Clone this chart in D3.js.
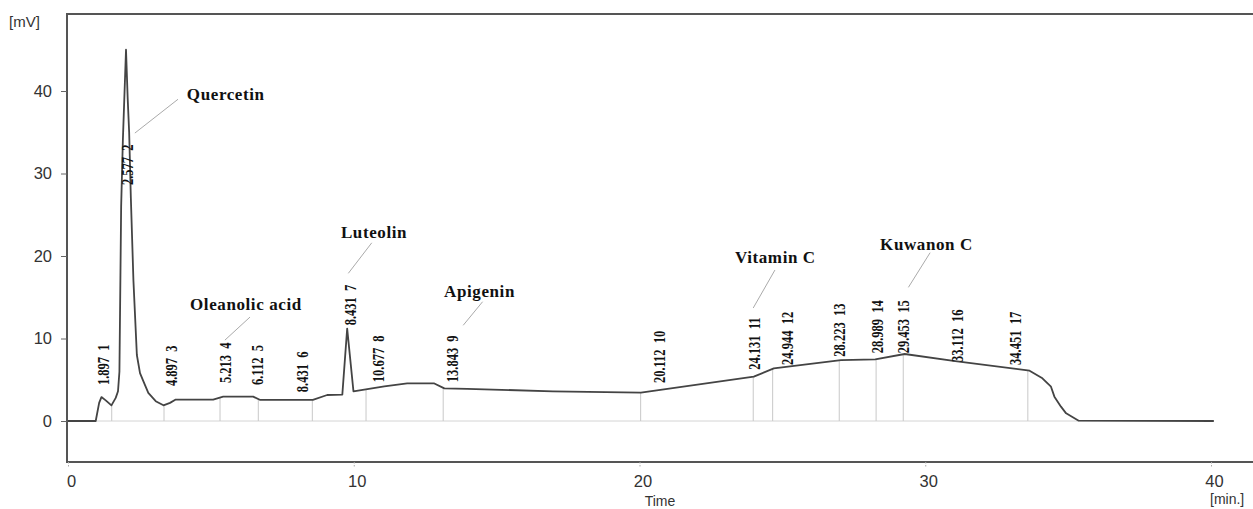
<!DOCTYPE html>
<html>
<head>
<meta charset="utf-8">
<script src="https://cdn.jsdelivr.net/npm/d3@7"></script>
<style>
  body { margin: 0; background: #fff; }
  svg { display: block; }
  .tick text { font-family: "Liberation Sans", Arial, sans-serif; fill: #333; }
  .peak { font-family: "Liberation Serif", "Times New Roman", serif; font-size: 12.5px; font-weight: bold; fill: #111; white-space: pre; }
  .name { font-family: "Liberation Serif", "Times New Roman", serif; font-size: 17px; font-weight: bold; fill: #111; letter-spacing: 0.6px; }
  .axlabel { font-family: "Liberation Sans", Arial, sans-serif; fill: #333; }
</style>
</head>
<body>
<svg id="chart"></svg>
<script>
  // chromatogram trace: time (min) and signal (mV)
  const traceTime = [0, 0.97, 1.09, 1.17, 1.32, 1.52, 1.67, 1.75, 1.8, 1.86, 1.92, 1.97, 2.03, 2.09, 2.14, 2.2, 2.29, 2.41, 2.52, 2.64, 2.81, 3.07, 3.34, 3.57, 3.77, 5.08, 5.43, 6.48, 6.73, 8.57, 9.07, 9.6, 9.77, 9.99, 11.07, 11.87, 12.82, 13.17, 13.97, 16.97, 20.05, 24.0, 24.7, 27.05, 28.25, 29.28, 31.05, 33.65, 34.1, 34.4, 34.52, 34.75, 34.93, 35.37, 40.1];
  const traceMV   = [0, 0, 2.2, 2.9, 2.5, 1.9, 2.8, 3.6, 6, 26, 34, 39, 45, 39, 35, 27, 17, 8, 5.8, 4.8, 3.4, 2.4, 1.9, 2.2, 2.6, 2.6, 2.95, 2.95, 2.55, 2.55, 3.15, 3.2, 11.2, 3.6, 4.2, 4.55, 4.55, 3.95, 3.9, 3.6, 3.43, 5.37, 6.38, 7.39, 7.47, 8.12, 7.27, 6.1, 5.17, 4.16, 2.95, 1.74, 0.93, 0.04, 0];

  // integration drop lines (min)
  const dropTimes = [1.53, 3.36, 5.32, 6.66, 8.55, 10.43, 13.13, 20.04, 23.98, 24.66, 26.99, 28.28, 29.23, 33.59];

  // peak labels
  const peakNums  = [1, 2, 3, 4, 5, 6, 7, 8, 9, 10, 11, 12, 13, 14, 15, 16, 17];
  const peakRT    = ["1.897", "2.577", "4.897", "5.213", "6.112", "8.431", "8.431", "10.677", "13.843", "20.112", "24.131", "24.944", "28.223", "28.989", "29.453", "33.112", "34.451"];
  const peakLabT  = [1.22, 2.07, 3.6, 5.49, 6.61, 8.19, 9.87, 10.85, 13.44, 20.68, 24.01, 25.16, 26.98, 28.31, 29.22, 31.11, 33.14];
  const peakLabV  = [4.36, 28.6, 4.24, 4.6, 4.36, 3.5, 11.6, 4.7, 4.7, 4.6, 6.2, 6.8, 7.8, 8.2, 8.2, 7.15, 6.8];

  // compound names with leader lines
  const compounds = ["Quercetin", "Oleanolic acid", "Luteolin", "Apigenin", "Vitamin C", "Kuwanon C"];
  const nameT  = [4.16, 4.27, 9.55, 13.16, 23.34, 28.42];
  const nameV  = [38.9, 13.45, 22.2, 15.0, 19.15, 20.7];
  const lineT1 = [3.85, 6.37, 10.63, 14.51, 24.74, 30.17];
  const lineV1 = [39.0, 12.6, 21.6, 14.46, 18.3, 20.4];
  const lineT2 = [2.34, 5.49, 9.81, 13.83, 23.98, 29.41];
  const lineV2 = [34.9, 9.8, 17.9, 11.6, 13.7, 16.2];

  const xTicks = [0, 10, 20, 30, 40];
  const yTicks = [0, 10, 20, 30, 40];

  const width = 1253, height = 509;
  const frameLeft = 67, frameTop = 14, frameBottom = 462;

  const svg = d3.select('#chart')
    .attr('width', width)
    .attr('height', height);

  const x = d3.scaleLinear().domain([0, 40]).range([68, 1211]);
  const y = d3.scaleLinear().domain([0, 40]).range([421, 91]);

  // frame
  svg.append('path')
    .attr('d', `M${width},${frameTop}H${frameLeft}V${frameBottom}H${width}`)
    .attr('fill', 'none')
    .attr('stroke', '#555')
    .attr('stroke-width', 2);

  // axes
  const yAxis = svg.append('g')
    .attr('transform', `translate(${frameLeft},0)`)
    .call(d3.axisLeft(y).tickValues(yTicks).tickSize(6).tickPadding(9));
  yAxis.select('.domain').remove();
  yAxis.selectAll('line').attr('stroke', '#666');
  yAxis.selectAll('text').style('font-size', '16.5px');

  const xAxis = svg.append('g')
    .attr('transform', `translate(0,${frameBottom})`)
    .call(d3.axisBottom(x).tickValues(xTicks).tickSize(6).tickPadding(7));
  xAxis.select('.domain').remove();
  xAxis.selectAll('line').attr('stroke', '#aaa').attr('stroke-dasharray', '1.5,1.5');
  xAxis.selectAll('text').style('font-size', '16.5px').attr('dx', 3);

  svg.append('text').attr('class', 'axlabel').attr('x', 9).attr('y', 27)
    .style('font-size', '15px')
    .text('[mV]');
  svg.append('text').attr('class', 'axlabel').attr('x', 660).attr('y', 506).attr('text-anchor', 'middle')
    .style('font-size', '14px')
    .text('Time');
  svg.append('text').attr('class', 'axlabel').attr('x', 1210).attr('y', 504)
    .style('font-size', '14px')
    .text('[min.]');

  // baseline and drop lines
  svg.append('line')
    .attr('x1', x(0)).attr('x2', x(40))
    .attr('y1', y(0)).attr('y2', y(0))
    .attr('stroke', '#d4d4d4').attr('stroke-width', 1);

  const interp = (t) => {
    const i = d3.bisectRight(traceTime, t);
    const t0 = traceTime[i - 1], t1 = traceTime[i];
    const v0 = traceMV[i - 1], v1 = traceMV[i];
    return v0 + (v1 - v0) * (t - t0) / (t1 - t0);
  };

  svg.selectAll('.drop')
    .data(dropTimes)
    .enter()
    .append('line')
    .attr('class', 'drop')
    .attr('x1', (d) => x(d)).attr('x2', (d) => x(d))
    .attr('y1', y(0)).attr('y2', (d) => y(interp(d)))
    .attr('stroke', '#c8c8c8').attr('stroke-width', 1);

  // trace
  const line = d3.line()
    .x((d, i) => x(traceTime[i]))
    .y((d) => y(d));

  svg.append('path')
    .datum(traceMV)
    .attr('d', line)
    .attr('fill', 'none')
    .attr('stroke', '#444')
    .attr('stroke-width', 1.8)
    .attr('stroke-linejoin', 'round');

  // peak labels (rotated, glyphs widened like the instrument print)
  svg.selectAll('.peak')
    .data(peakNums)
    .enter()
    .append('text')
    .attr('class', 'peak')
    .attr('transform', (d, i) => `translate(${x(peakLabT[i])},${y(peakLabV[i])}) rotate(-90) scale(1,1.3)`)
    .attr('dy', '0.35em')
    .text((d, i) => `${peakRT[i]}  ${d}`);

  // compound names
  svg.selectAll('.leader')
    .data(compounds)
    .enter()
    .append('line')
    .attr('class', 'leader')
    .attr('x1', (d, i) => x(lineT1[i])).attr('y1', (d, i) => y(lineV1[i]))
    .attr('x2', (d, i) => x(lineT2[i])).attr('y2', (d, i) => y(lineV2[i]))
    .attr('stroke', '#aaa').attr('stroke-width', 1);

  svg.selectAll('.name')
    .data(compounds)
    .enter()
    .append('text')
    .attr('class', 'name')
    .attr('x', (d, i) => x(nameT[i]))
    .attr('y', (d, i) => y(nameV[i]))
    .text((d) => d);
</script>
</body>
</html>
